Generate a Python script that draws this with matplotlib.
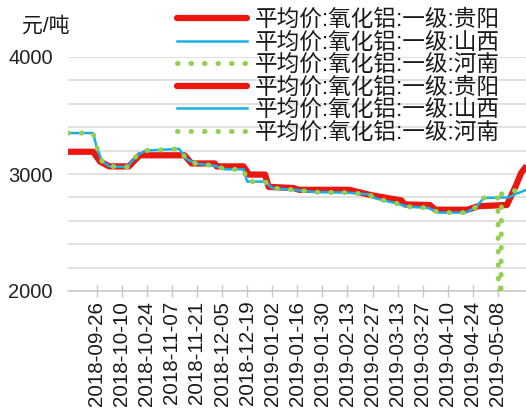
"Alumina average price chart, three regions"

import numpy as np
import pandas as pd
import matplotlib
matplotlib.use("Agg")
import matplotlib.pyplot as plt
import matplotlib.dates as mdates
from matplotlib.lines import Line2D
from matplotlib.ticker import MultipleLocator

plt.rcParams['font.family'] = ['Liberation Sans', 'Noto Sans CJK SC']

# series names
names = ['平均价:氧化铝:一级:贵阳', '平均价:氧化铝:一级:山西', '平均价:氧化铝:一级:河南']

# 贵阳
gy_dates = ['2018-09-10', '2018-09-24', '2018-09-28', '2018-10-03', '2018-10-14', '2018-10-20',
            '2018-11-14', '2018-11-18', '2018-12-01', '2018-12-02', '2018-12-17', '2018-12-20',
            '2018-12-29', '2018-12-31', '2019-01-14', '2019-01-17', '2019-02-14', '2019-02-26',
            '2019-03-09', '2019-03-15', '2019-03-17', '2019-03-31', '2019-04-03', '2019-04-21',
            '2019-04-27', '2019-05-13', '2019-05-18', '2019-05-21', '2019-05-24']
gy_vals = [3190, 3190, 3105, 3065, 3065, 3160,
           3160, 3090, 3090, 3065, 3065, 2995,
           2995, 2890, 2880, 2865, 2865, 2820,
           2790, 2775, 2740, 2735, 2695, 2695,
           2725, 2735, 2900, 3010, 3070]

# 山西
sx_dates = ['2018-09-10', '2018-09-24', '2018-09-26', '2018-09-29', '2018-10-03', '2018-10-13',
            '2018-10-18', '2018-10-23', '2018-11-11', '2018-11-15', '2018-11-20', '2018-12-01',
            '2018-12-07', '2018-12-17', '2018-12-19', '2018-12-29', '2019-01-02', '2019-01-17',
            '2019-01-26', '2019-02-14', '2019-02-25', '2019-03-01', '2019-03-12', '2019-03-19',
            '2019-03-30', '2019-04-05', '2019-04-20', '2019-04-26', '2019-04-30', '2019-05-14',
            '2019-05-18', '2019-05-24']
sx_vals = [3350, 3350, 3230, 3110, 3065, 3060,
           3150, 3200, 3215, 3130, 3090, 3070,
           3040, 3040, 2935, 2935, 2880, 2860,
           2845, 2840, 2825, 2790, 2750, 2720,
           2710, 2670, 2670, 2720, 2795, 2800,
           2830, 2865]

# 河南
hn_dates = ['2018-09-10', '2018-09-24', '2018-09-26', '2018-09-29', '2018-10-03', '2018-10-13',
            '2018-10-18', '2018-10-23', '2018-11-11', '2018-11-15', '2018-11-20', '2018-12-01',
            '2018-12-07', '2018-12-17', '2018-12-19', '2018-12-29', '2019-01-02', '2019-01-17',
            '2019-01-26', '2019-02-14', '2019-02-25', '2019-03-01', '2019-03-12', '2019-03-19',
            '2019-03-30', '2019-04-05', '2019-04-20', '2019-04-26', '2019-04-30', '2019-05-08',
            '2019-05-09', '2019-05-10', '2019-05-14', '2019-05-24']
hn_vals = [3350, 3350, 3230, 3110, 3065, 3060,
           3150, 3200, 3215, 3130, 3090, 3070,
           3040, 3040, 2935, 2935, 2880, 2860,
           2845, 2840, 2825, 2790, 2750, 2720,
           2710, 2670, 2670, 2720, 2795, 2795,
           0, 2830, 2850, 2870]

tick_dates = ['2018-09-26', '2018-10-10', '2018-10-24', '2018-11-07', '2018-11-21', '2018-12-05',
              '2018-12-19', '2019-01-02', '2019-01-16', '2019-01-30', '2019-02-13', '2019-02-27',
              '2019-03-13', '2019-03-27', '2019-04-10', '2019-04-24', '2019-05-08']

red = '#E8170F'
blue = '#1AAEE8'
green = '#92D050'
dots = (0, (0.1, 2.6))

fig = plt.figure(figsize=(5.26, 4.09), dpi=100)
ax = fig.add_axes([68 / 526, 118 / 409, 1 - 68 / 526, 234 / 409])

ax.plot(pd.to_datetime(gy_dates), gy_vals, color=red, lw=4.5, solid_capstyle='butt', zorder=3)
ax.plot(pd.to_datetime(sx_dates), sx_vals, color=blue, lw=1.8, zorder=4)
ax.plot(pd.to_datetime(hn_dates), hn_vals, color=green, lw=3.6,
        linestyle=dots, dash_capstyle='round', zorder=5)

ax.set_ylim(2000, 4000)
ax.set_xlim(pd.Timestamp('2018-09-10'), pd.Timestamp('2019-05-23 16:00'))

ax.yaxis.set_major_locator(MultipleLocator(1000))
ax.yaxis.set_minor_locator(MultipleLocator(200))
ax.grid(axis='y', which='both', color='#D9D9D9', lw=1.1, zorder=0)
ax.tick_params(axis='y', which='both', length=0, labelsize=14.5, pad=11, colors='#222222')

ticks = pd.to_datetime(tick_dates)
ax.set_xticks(ticks)
ax.set_xticklabels(tick_dates, rotation=90, fontsize=14.8)
ax.tick_params(axis='x', direction='inout', length=8, width=1, color='#C8C8C8',
               pad=3, labelcolor='#1A1A1A')

for s in ['top', 'right', 'left']:
    ax.spines[s].set_visible(False)
ax.spines['bottom'].set_color('#C8C8C8')
ax.spines['bottom'].set_linewidth(1.1)

fig.text(22 / 526, 1 - 26 / 409, '元/吨', fontsize=15, va='center', ha='left', color='#1A1A1A')

handles = [Line2D([], [], color=red, lw=4.5, solid_capstyle='round'),
           Line2D([], [], color=blue, lw=1.8),
           Line2D([], [], color=green, lw=3.6, linestyle=dots, dash_capstyle='round')]
leg = fig.legend(handles * 2, names * 2, loc='upper left', bbox_to_anchor=(177 / 526, 1 - 8 / 409),
                 frameon=False, fontsize=16.3, handlelength=3.1, handletextpad=0.35,
                 labelspacing=-0.02, borderpad=0, borderaxespad=0)
for t in leg.get_texts():
    t.set_color('#1A1A1A')

fig.savefig('out.png', dpi=100)
